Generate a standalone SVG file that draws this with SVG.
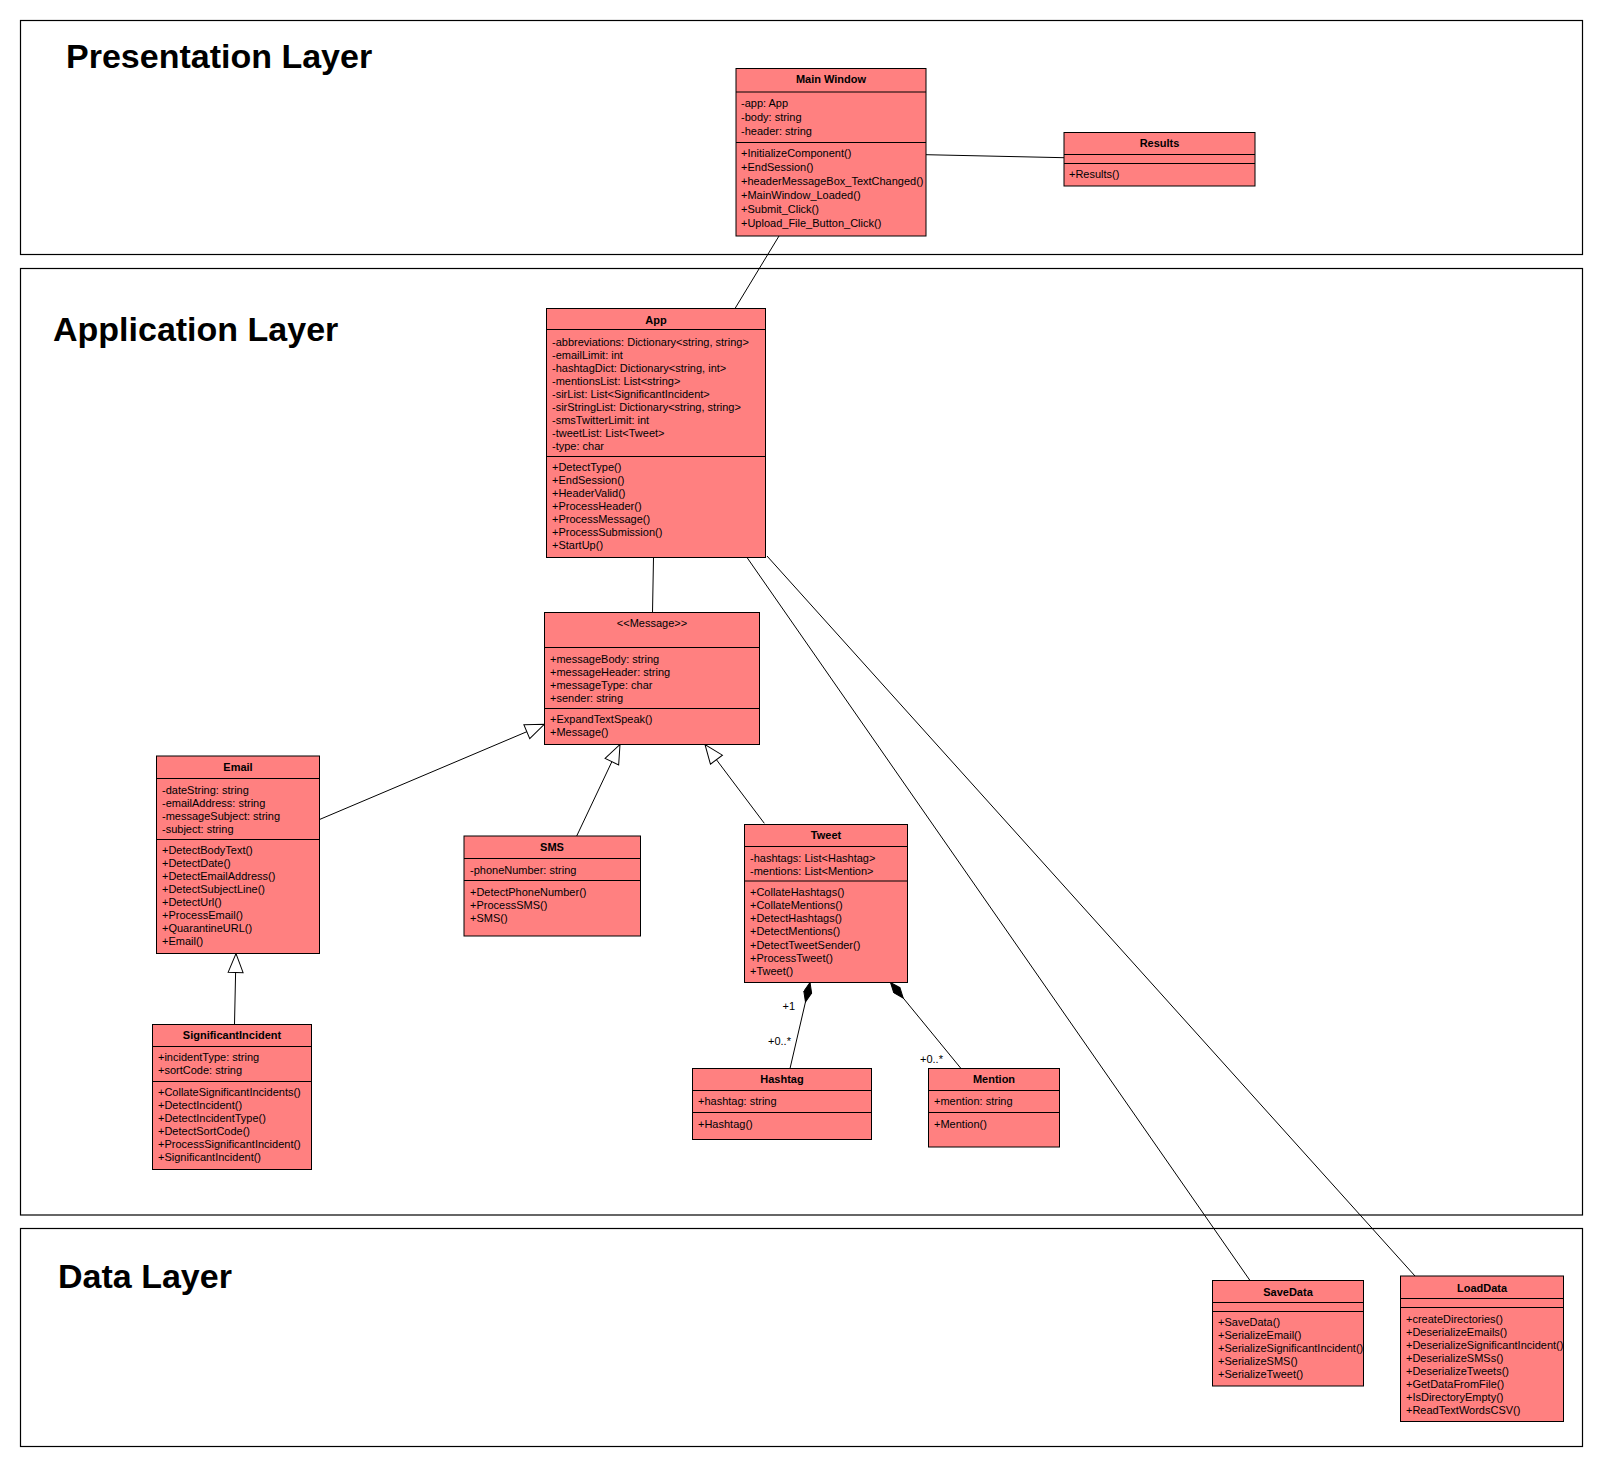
<svg xmlns="http://www.w3.org/2000/svg" width="1604" height="1468" viewBox="0 0 1604 1468">
<style>
.layer{fill:#fff;stroke:#000;stroke-width:1.2}
.ltitle{font-family:"Liberation Sans",Arial,sans-serif;font-size:34px;font-weight:bold;fill:#000}
.box{fill:#FF8080;stroke:#000;stroke-width:1}
.sep{stroke:#000;stroke-width:1}
.t{font-family:"Liberation Sans",Arial,sans-serif;font-size:11px;fill:#000}
.h{font-family:"Liberation Sans",Arial,sans-serif;font-size:11px;font-weight:bold;fill:#000;text-anchor:middle}
.c{stroke:#000;stroke-width:1;fill:none}
.gen{marker-end:url(#tri)}
.comp{marker-end:url(#dia)}
.m{font-family:"Liberation Sans",Arial,sans-serif;font-size:11px;fill:#000}
</style>
<defs>
<marker id="tri" markerUnits="userSpaceOnUse" markerWidth="22" markerHeight="18" refX="20" refY="8.5" orient="auto">
<path d="M1,1 L20,8.5 L1,16 Z" fill="#fff" stroke="#000" stroke-width="1"/>
</marker>
<marker id="dia" markerUnits="userSpaceOnUse" markerWidth="23" markerHeight="10" refX="21" refY="4.5" orient="auto">
<path d="M1,4.5 L11,0.5 L21,4.5 L11,8.5 Z" fill="#000" stroke="#000" stroke-width="1"/>
</marker>
</defs>
<rect width="1604" height="1468" fill="#fff"/>

<g id="layers">
<rect class="layer" x="20.5" y="20.5" width="1562" height="234"/>
<text class="ltitle" x="66" y="68">Presentation Layer</text>
<rect class="layer" x="20.5" y="268.5" width="1562" height="946.5"/>
<text class="ltitle" x="53" y="341">Application Layer</text>
<rect class="layer" x="20.5" y="1228.5" width="1562" height="218"/>
<text class="ltitle" x="58" y="1288">Data Layer</text>
</g>

<g id="connectors">
<line class="c" x1="926" y1="154.7" x2="1064" y2="157.7"/>
<line class="c" x1="779" y1="236" x2="735" y2="308.5"/>
<line class="c" x1="653.5" y1="557.5" x2="652.5" y2="612.5"/>
<line class="c" x1="747" y1="557.5" x2="1250" y2="1280.5"/>
<line class="c" x1="767" y1="556" x2="1415" y2="1276"/>
<line class="c gen" x1="320" y1="819.3" x2="544.3" y2="724.3"/>
<line class="c gen" x1="576.7" y1="836" x2="620" y2="744.5"/>
<line class="c gen" x1="764.3" y1="823.3" x2="705" y2="744.5"/>
<line class="c gen" x1="234.5" y1="1024.5" x2="236" y2="953.5"/>
<line class="c comp" x1="790" y1="1068.5" x2="810" y2="982.5"/>
<line class="c comp" x1="961" y1="1068.5" x2="890.5" y2="982.5"/>
<text class="m" x="782.5" y="1010">+1</text>
<text class="m" x="768" y="1045">+0..*</text>
<text class="m" x="920" y="1063">+0..*</text>
</g>

<g id="MainWindow">
<rect class="box" x="736" y="68.5" width="190" height="167.5"/>
<line class="sep" x1="736" y1="92" x2="926" y2="92"/>
<line class="sep" x1="736" y1="142.5" x2="926" y2="142.5"/>
<text class="h" x="831" y="83">Main Window</text>
<text class="t" x="741" y="106.7">-app: App</text>
<text class="t" x="741" y="120.7">-body: string</text>
<text class="t" x="741" y="134.7">-header: string</text>
<text class="t" x="741" y="157.3">+InitializeComponent()</text>
<text class="t" x="741" y="171.3">+EndSession()</text>
<text class="t" x="741" y="185.3">+headerMessageBox_TextChanged()</text>
<text class="t" x="741" y="199.3">+MainWindow_Loaded()</text>
<text class="t" x="741" y="213.3">+Submit_Click()</text>
<text class="t" x="741" y="227.3">+Upload_File_Button_Click()</text>
</g>

<g id="Results">
<rect class="box" x="1064" y="132.5" width="191" height="53.5"/>
<line class="sep" x1="1064" y1="154.5" x2="1255" y2="154.5"/>
<line class="sep" x1="1064" y1="163.5" x2="1255" y2="163.5"/>
<text class="h" x="1159.5" y="146.7">Results</text>
<text class="t" x="1069" y="178.3">+Results()</text>
</g>

<g id="App">
<rect class="box" x="546.5" y="308.5" width="219" height="249"/>
<line class="sep" x1="546.5" y1="329.5" x2="765.5" y2="329.5"/>
<line class="sep" x1="546.5" y1="456.5" x2="765.5" y2="456.5"/>
<text class="h" x="656" y="323.5">App</text>
<text class="t" x="552" y="345.5">-abbreviations: Dictionary&lt;string, string&gt;</text>
<text class="t" x="552" y="358.5">-emailLimit: int</text>
<text class="t" x="552" y="371.5">-hashtagDict: Dictionary&lt;string, int&gt;</text>
<text class="t" x="552" y="384.5">-mentionsList: List&lt;string&gt;</text>
<text class="t" x="552" y="397.5">-sirList: List&lt;SignificantIncident&gt;</text>
<text class="t" x="552" y="410.5">-sirStringList: Dictionary&lt;string, string&gt;</text>
<text class="t" x="552" y="423.5">-smsTwitterLimit: int</text>
<text class="t" x="552" y="436.5">-tweetList: List&lt;Tweet&gt;</text>
<text class="t" x="552" y="449.5">-type: char</text>
<text class="t" x="552" y="470.5">+DetectType()</text>
<text class="t" x="552" y="483.5">+EndSession()</text>
<text class="t" x="552" y="496.5">+HeaderValid()</text>
<text class="t" x="552" y="509.5">+ProcessHeader()</text>
<text class="t" x="552" y="522.5">+ProcessMessage()</text>
<text class="t" x="552" y="535.5">+ProcessSubmission()</text>
<text class="t" x="552" y="548.5">+StartUp()</text>
</g>

<g id="Message">
<rect class="box" x="544.5" y="612.5" width="215" height="132"/>
<line class="sep" x1="544.5" y1="647.5" x2="759.5" y2="647.5"/>
<line class="sep" x1="544.5" y1="708.5" x2="759.5" y2="708.5"/>
<text class="t" x="652" y="627" text-anchor="middle">&lt;&lt;Message&gt;&gt;</text>
<text class="t" x="550" y="662.5">+messageBody: string</text>
<text class="t" x="550" y="675.5">+messageHeader: string</text>
<text class="t" x="550" y="688.5">+messageType: char</text>
<text class="t" x="550" y="701.5">+sender: string</text>
<text class="t" x="550" y="723">+ExpandTextSpeak()</text>
<text class="t" x="550" y="736">+Message()</text>
</g>

<g id="Email">
<rect class="box" x="156.5" y="756" width="163" height="197.5"/>
<line class="sep" x1="156.5" y1="778.5" x2="319.5" y2="778.5"/>
<line class="sep" x1="156.5" y1="839.5" x2="319.5" y2="839.5"/>
<text class="h" x="238" y="770.5">Email</text>
<text class="t" x="162" y="793.5">-dateString: string</text>
<text class="t" x="162" y="806.5">-emailAddress: string</text>
<text class="t" x="162" y="819.5">-messageSubject: string</text>
<text class="t" x="162" y="832.5">-subject: string</text>
<text class="t" x="162" y="854">+DetectBodyText()</text>
<text class="t" x="162" y="867">+DetectDate()</text>
<text class="t" x="162" y="880">+DetectEmailAddress()</text>
<text class="t" x="162" y="893">+DetectSubjectLine()</text>
<text class="t" x="162" y="906">+DetectUrl()</text>
<text class="t" x="162" y="919">+ProcessEmail()</text>
<text class="t" x="162" y="932">+QuarantineURL()</text>
<text class="t" x="162" y="945">+Email()</text>
</g>

<g id="SignificantIncident">
<rect class="box" x="152.5" y="1024.5" width="159" height="145"/>
<line class="sep" x1="152.5" y1="1046.5" x2="311.5" y2="1046.5"/>
<line class="sep" x1="152.5" y1="1081.5" x2="311.5" y2="1081.5"/>
<text class="h" x="232" y="1039">SignificantIncident</text>
<text class="t" x="158" y="1060.5">+incidentType: string</text>
<text class="t" x="158" y="1074">+sortCode: string</text>
<text class="t" x="158" y="1095.5">+CollateSignificantIncidents()</text>
<text class="t" x="158" y="1108.5">+DetectIncident()</text>
<text class="t" x="158" y="1121.5">+DetectIncidentType()</text>
<text class="t" x="158" y="1134.5">+DetectSortCode()</text>
<text class="t" x="158" y="1147.5">+ProcessSignificantIncident()</text>
<text class="t" x="158" y="1160.5">+SignificantIncident()</text>
</g>

<g id="SMS">
<rect class="box" x="464" y="836" width="176.5" height="100"/>
<line class="sep" x1="464" y1="858.5" x2="640.5" y2="858.5"/>
<line class="sep" x1="464" y1="880.5" x2="640.5" y2="880.5"/>
<text class="h" x="552" y="851">SMS</text>
<text class="t" x="470" y="873.5">-phoneNumber: string</text>
<text class="t" x="470" y="895.5">+DetectPhoneNumber()</text>
<text class="t" x="470" y="908.5">+ProcessSMS()</text>
<text class="t" x="470" y="921.5">+SMS()</text>
</g>

<g id="Tweet">
<rect class="box" x="744.5" y="824.5" width="163" height="158"/>
<line class="sep" x1="744.5" y1="846.5" x2="907.5" y2="846.5"/>
<line class="sep" x1="744.5" y1="881" x2="907.5" y2="881"/>
<text class="h" x="826" y="839">Tweet</text>
<text class="t" x="750" y="861.5">-hashtags: List&lt;Hashtag&gt;</text>
<text class="t" x="750" y="874.5">-mentions: List&lt;Mention&gt;</text>
<text class="t" x="750" y="895.7">+CollateHashtags()</text>
<text class="t" x="750" y="908.9">+CollateMentions()</text>
<text class="t" x="750" y="922.1">+DetectHashtags()</text>
<text class="t" x="750" y="935.3">+DetectMentions()</text>
<text class="t" x="750" y="948.5">+DetectTweetSender()</text>
<text class="t" x="750" y="961.7">+ProcessTweet()</text>
<text class="t" x="750" y="974.9">+Tweet()</text>
</g>

<g id="Hashtag">
<rect class="box" x="692.5" y="1068.5" width="179" height="71"/>
<line class="sep" x1="692.5" y1="1090.5" x2="871.5" y2="1090.5"/>
<line class="sep" x1="692.5" y1="1112.5" x2="871.5" y2="1112.5"/>
<text class="h" x="782" y="1083">Hashtag</text>
<text class="t" x="698" y="1105">+hashtag: string</text>
<text class="t" x="698" y="1127.5">+Hashtag()</text>
</g>

<g id="Mention">
<rect class="box" x="928.5" y="1068.5" width="131" height="78.5"/>
<line class="sep" x1="928.5" y1="1090.5" x2="1059.5" y2="1090.5"/>
<line class="sep" x1="928.5" y1="1112.5" x2="1059.5" y2="1112.5"/>
<text class="h" x="994" y="1083">Mention</text>
<text class="t" x="934" y="1105">+mention: string</text>
<text class="t" x="934" y="1127.5">+Mention()</text>
</g>

<g id="SaveData">
<rect class="box" x="1212.5" y="1280.5" width="151" height="105.5"/>
<line class="sep" x1="1212.5" y1="1302.5" x2="1363.5" y2="1302.5"/>
<line class="sep" x1="1212.5" y1="1311.5" x2="1363.5" y2="1311.5"/>
<text class="h" x="1288" y="1295.5">SaveData</text>
<text class="t" x="1218" y="1325.5">+SaveData()</text>
<text class="t" x="1218" y="1339">+SerializeEmail()</text>
<text class="t" x="1218" y="1352">+SerializeSignificantIncident()</text>
<text class="t" x="1218" y="1365">+SerializeSMS()</text>
<text class="t" x="1218" y="1378">+SerializeTweet()</text>
</g>

<g id="LoadData">
<rect class="box" x="1400.5" y="1276" width="163" height="145.5"/>
<line class="sep" x1="1400.5" y1="1298.5" x2="1563.5" y2="1298.5"/>
<line class="sep" x1="1400.5" y1="1307.5" x2="1563.5" y2="1307.5"/>
<text class="h" x="1482" y="1291.5">LoadData</text>
<text class="t" x="1406" y="1322.5">+createDirectories()</text>
<text class="t" x="1406" y="1335.5">+DeserializeEmails()</text>
<text class="t" x="1406" y="1348.5">+DeserializeSignificantIncident()</text>
<text class="t" x="1406" y="1361.5">+DeserializeSMSs()</text>
<text class="t" x="1406" y="1374.5">+DeserializeTweets()</text>
<text class="t" x="1406" y="1387.5">+GetDataFromFile()</text>
<text class="t" x="1406" y="1400.5">+IsDirectoryEmpty()</text>
<text class="t" x="1406" y="1413.5">+ReadTextWordsCSV()</text>
</g>
</svg>
